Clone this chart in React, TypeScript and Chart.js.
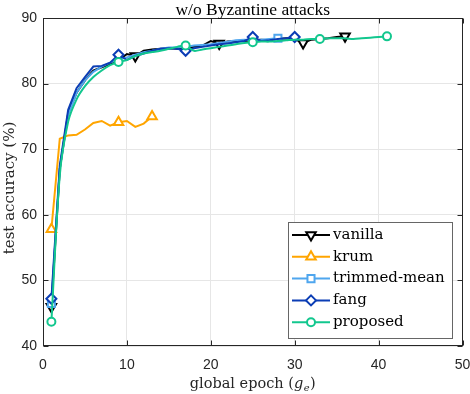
import React, { useEffect, useRef } from 'react';
import { Chart, registerables } from 'chart.js';

Chart.register(...registerables);

// ---- data ----
const titleText = 'w/o Byzantine attacks';
const yTitle = 'test accuracy (%)';
const xTitleMain = 'global epoch (';
const xTicks = [0, 10, 20, 30, 40, 50];
const yTicks = [40, 50, 60, 70, 80, 90];
const seriesNames = ['vanilla', 'krum', 'trimmed-mean', 'fang', 'proposed'];

const vanilla = [
  46.0, 67.0, 75.5, 78.6, 80.5, 82.0, 82.5, 83.0, 83.5, 84.5,
  84.2, 85.0, 85.2, 85.3, 85.4, 85.3, 85.4, 85.6, 85.8, 86.5,
  86.1, 86.4, 86.5, 86.5, 86.6, 86.7, 86.6, 86.8, 86.9, 86.8,
  86.2, 86.7, 86.8, 86.9, 87.1, 87.2,
];
const krum = [
  57.8, 71.6, 72.1, 72.2, 73.0, 74.0, 74.3, 73.6, 74.1, 74.3,
  73.4, 73.9, 75.0,
];
const trimmedMean = [
  46.5, 67.0, 75.2, 78.6, 80.5, 81.8, 82.6, 83.2, 83.7, 84.0,
  84.4, 84.8, 85.0, 85.3, 85.5, 85.5, 85.6, 85.8, 85.9, 86.0,
  86.2, 86.4, 86.6, 86.7, 86.6, 86.7, 86.8, 86.9,
];
const fang = [
  47.2, 67.5, 76.0, 79.3, 81.0, 82.6, 82.7, 83.2, 84.4, 83.6,
  84.2, 84.6, 85.0, 85.3, 85.4, 85.3, 85.0, 85.4, 85.6, 85.8,
  86.0, 86.1, 86.3, 86.5, 87.1, 86.5, 86.6, 86.8, 86.9, 87.1,
];
const proposed = [
  43.7, 66.0, 74.2, 77.6, 79.6, 81.0, 82.0, 82.8, 83.3, 83.6,
  84.2, 84.6, 84.8, 85.0, 85.3, 85.6, 85.8, 85.0, 85.2, 85.4,
  85.6, 85.8, 86.0, 86.2, 86.3, 86.4, 86.4, 86.5, 86.6, 86.7,
  86.7, 86.8, 86.8, 86.9, 86.9, 86.9, 86.8, 86.9, 87.0, 87.1,
  87.2,
];

const vanillaMarkers = [1, 11, 21, 31, 36];
const krumMarkers = [1, 9, 13];
const trimmedMarkers = [1, 28];
const fangMarkers = [1, 9, 17, 25, 30];
const proposedMarkers = [1, 9, 17, 25, 33, 41];

// ---- styles ----
const seriesValues = [vanilla, krum, trimmedMean, fang, proposed];
const seriesMarkers = [vanillaMarkers, krumMarkers, trimmedMarkers, fangMarkers, proposedMarkers];
const styles = [
  { color: '#000000', shape: 'triangle', rotation: 180, radius: 5.5, tension: 0 },
  { color: '#FFA500', shape: 'triangle', rotation: 0, radius: 5.5, tension: 0 },
  { color: '#4FA6EE', shape: 'rect', rotation: 0, radius: 5, tension: 0 },
  { color: '#0B3DB5', shape: 'rectRot', rotation: 0, radius: 5, tension: 0 },
  { color: '#12C78E', shape: 'circle', rotation: 0, radius: 4, tension: 0.3 },
];

const SERIF = '"DejaVu Serif", serif';
const TIMES = '"Liberation Serif", "Times New Roman", serif';
const SANS = '"Liberation Sans", Arial, sans-serif';
const AXIS_COLOR = '#262626';

function drawMarker(ctx: CanvasRenderingContext2D, shape: string, x: number, y: number, r: number, rotation: number) {
  ctx.beginPath();
  if (shape === 'circle') {
    ctx.arc(x, y, r, 0, Math.PI * 2);
  } else if (shape === 'triangle') {
    let rad = (rotation * Math.PI) / 180;
    ctx.moveTo(x + Math.sin(rad) * r, y - Math.cos(rad) * r);
    rad += (2 * Math.PI) / 3;
    ctx.lineTo(x + Math.sin(rad) * r, y - Math.cos(rad) * r);
    rad += (2 * Math.PI) / 3;
    ctx.lineTo(x + Math.sin(rad) * r, y - Math.cos(rad) * r);
    ctx.closePath();
  } else if (shape === 'rect') {
    const s = r * Math.SQRT1_2;
    ctx.rect(x - s, y - s, 2 * s, 2 * s);
  } else if (shape === 'rectRot') {
    ctx.moveTo(x, y - r);
    ctx.lineTo(x + r, y);
    ctx.lineTo(x, y + r);
    ctx.lineTo(x - r, y);
    ctx.closePath();
  }
  ctx.fill();
  ctx.stroke();
}

const decorPlugin = {
  id: 'decor',
  afterDatasetsDraw(chart: any) {
    const ctx: CanvasRenderingContext2D = chart.ctx;
    const area = chart.chartArea;
    const xs = chart.scales.x;
    const ys = chart.scales.y;
    ctx.save();
    // box
    ctx.strokeStyle = AXIS_COLOR;
    ctx.lineWidth = 1;
    const L = Math.round(area.left) + 0.5;
    const R = Math.round(area.right) - 0.5;
    const T = Math.round(area.top) + 0.5;
    const B = Math.round(area.bottom) - 0.5;
    ctx.strokeRect(L, T, R - L, B - T);
    // inward ticks
    const tl = 5;
    ctx.beginPath();
    xTicks.forEach((v) => {
      const px = Math.round(xs.getPixelForValue(v)) + 0.5;
      ctx.moveTo(px, B);
      ctx.lineTo(px, B - tl);
      ctx.moveTo(px, T);
      ctx.lineTo(px, T + tl);
    });
    yTicks.forEach((v) => {
      const py = Math.round(ys.getPixelForValue(v)) + 0.5;
      ctx.moveTo(L, py);
      ctx.lineTo(L + tl, py);
      ctx.moveTo(R, py);
      ctx.lineTo(R - tl, py);
    });
    ctx.stroke();

    // title
    ctx.fillStyle = '#000000';
    ctx.font = `17.5px ${TIMES}`;
    ctx.textAlign = 'center';
    ctx.textBaseline = 'alphabetic';
    const cx = (area.left + area.right) / 2;
    ctx.fillText(titleText, cx, 15);

    // x title with italic subscript
    ctx.fillStyle = AXIS_COLOR;
    const mainFont = `14.5px ${SERIF}`;
    const itFont = `italic 14.5px ${SERIF}`;
    const subFont = `italic 10px ${SERIF}`;
    ctx.font = mainFont;
    const w1 = ctx.measureText(xTitleMain).width;
    ctx.font = itFont;
    const w2 = ctx.measureText('g').width;
    ctx.font = subFont;
    const w3 = ctx.measureText('e').width;
    ctx.font = mainFont;
    const w4 = ctx.measureText(')').width;
    const total = w1 + w2 + w3 + w4 + 1;
    let x0 = cx - total / 2;
    const by = 388;
    ctx.textAlign = 'left';
    ctx.font = mainFont;
    ctx.fillText(xTitleMain, x0, by);
    x0 += w1;
    ctx.font = itFont;
    ctx.fillText('g', x0, by);
    x0 += w2 + 0.5;
    ctx.font = subFont;
    ctx.fillText('e', x0, by + 3);
    x0 += w3 + 0.5;
    ctx.font = mainFont;
    ctx.fillText(')', x0, by);

    // y title
    ctx.save();
    ctx.translate(14, 188);
    ctx.rotate(-Math.PI / 2);
    ctx.textAlign = 'center';
    ctx.textBaseline = 'alphabetic';
    ctx.font = `15px ${SERIF}`;
    ctx.fillText(yTitle, 0, 0);
    ctx.restore();

    // legend
    const lx = 288.5, ly = 222.5, lw = 164, lh = 116;
    ctx.fillStyle = '#ffffff';
    ctx.fillRect(lx, ly, lw, lh);
    ctx.strokeStyle = '#666666';
    ctx.lineWidth = 1;
    ctx.strokeRect(lx, ly, lw, lh);
    const rowY0 = 235;
    const rowStep = 21.8;
    seriesNames.forEach((name, i) => {
      const st = styles[i];
      const y = rowY0 + i * rowStep;
      ctx.strokeStyle = st.color;
      ctx.lineWidth = 2;
      ctx.beginPath();
      ctx.moveTo(292, y);
      ctx.lineTo(330, y);
      ctx.stroke();
      ctx.fillStyle = '#ffffff';
      drawMarker(ctx, st.shape, 311, y, st.radius, st.rotation);
      ctx.fillStyle = '#000000';
      ctx.font = `15px ${SERIF}`;
      ctx.textAlign = 'left';
      ctx.textBaseline = 'middle';
      ctx.fillText(name, 333, y);
    });
    ctx.restore();
  },
};

export default function App() {
  const canvasRef = useRef<HTMLCanvasElement | null>(null);

  useEffect(() => {
    document.body.style.margin = '0';
    const canvas = canvasRef.current;
    if (!canvas) return;
    const datasets = seriesValues.map((vals, i) => {
      const st = styles[i];
      const marks = seriesMarkers[i];
      return {
        label: seriesNames[i],
        data: vals.map((v, k) => ({ x: k + 1, y: v })),
        borderColor: st.color,
        borderWidth: 2,
        backgroundColor: '#ffffff',
        pointBackgroundColor: '#ffffff',
        pointBorderColor: st.color,
        pointBorderWidth: 2,
        pointStyle: st.shape,
        pointRotation: st.rotation,
        pointRadius: vals.map((_, k) => (marks.includes(k + 1) ? st.radius : 0)),
        pointHoverRadius: 0,
        tension: st.tension,
        fill: false,
        order: seriesNames.length - i,
      };
    });
    const chart = new Chart(canvas, {
      type: 'line',
      data: { datasets: datasets as any },
      options: {
        responsive: false,
        animation: false,
        events: [],
        layout: { padding: { top: 18, right: 7, left: 0, bottom: 0 } },
        plugins: {
          legend: { display: false },
          tooltip: { enabled: false },
          title: { display: false },
        },
        scales: {
          x: {
            type: 'linear',
            min: 0,
            max: 50,
            afterBuildTicks: (s: any) => {
              s.ticks = xTicks.map((v) => ({ value: v }));
            },
            afterFit: (s: any) => {
              s.height = 48;
              s.paddingLeft = 0;
              s.paddingRight = 0;
            },
            ticks: {
              font: { family: SANS, size: 14 },
              color: AXIS_COLOR,
              padding: 11,
              maxRotation: 0,
            },
            grid: { color: '#e6e6e6', lineWidth: 1, drawTicks: false },
            border: { display: false },
          },
          y: {
            type: 'linear',
            min: 40,
            max: 90,
            afterBuildTicks: (s: any) => {
              s.ticks = yTicks.map((v) => ({ value: v }));
            },
            afterFit: (s: any) => {
              s.width = 43;
              s.paddingTop = 0;
              s.paddingBottom = 0;
            },
            ticks: {
              font: { family: SANS, size: 14 },
              color: AXIS_COLOR,
              padding: 6,
            },
            grid: { color: '#e6e6e6', lineWidth: 1, drawTicks: false },
            border: { display: false },
          },
        },
      },
      plugins: [decorPlugin],
    });
    return () => chart.destroy();
  }, []);

  return (
    <div style={{ width: 470, height: 394, background: '#ffffff' }}>
      <canvas ref={canvasRef} width={470} height={394} style={{ display: 'block' }} />
    </div>
  );
}
